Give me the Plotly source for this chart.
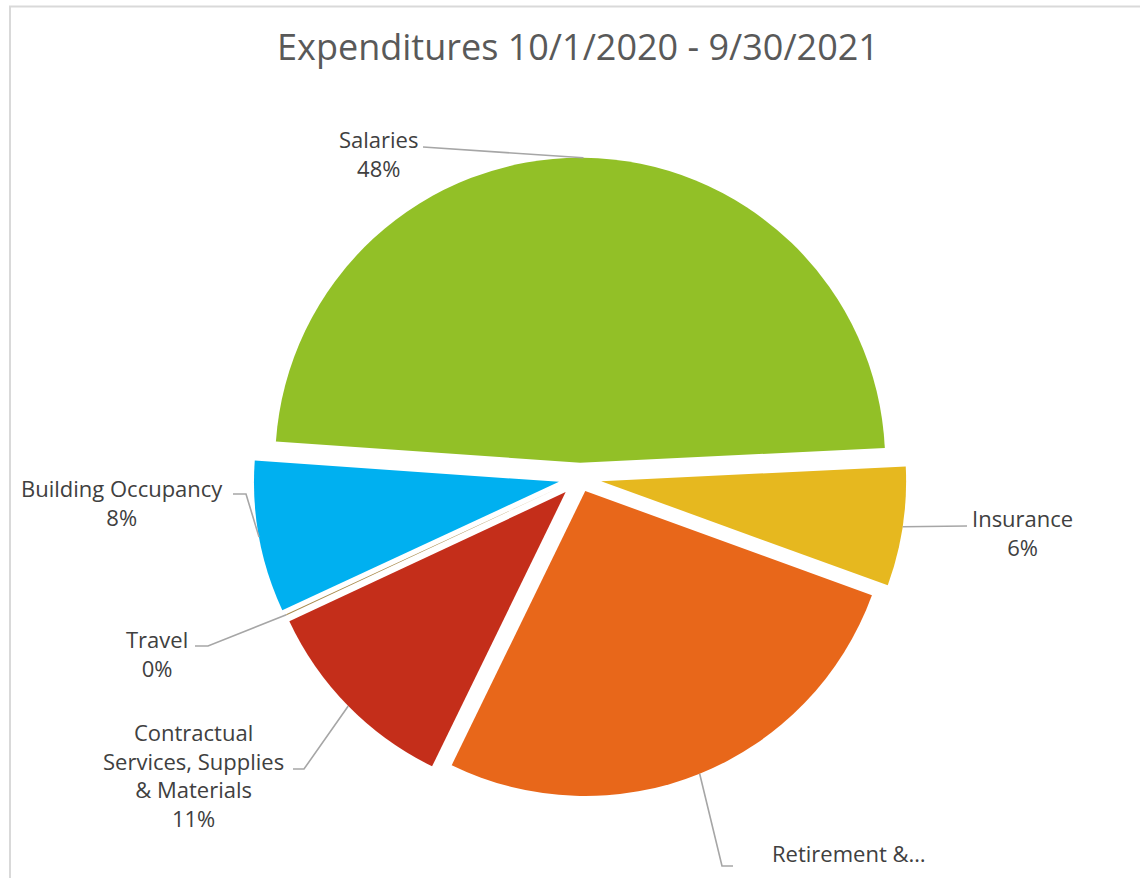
import math
import plotly.graph_objects as go

# ---- data -------------------------------------------------------------
categories = ["Salaries", "Insurance", "Retirement & Benefits",
              "Contractual Services, Supplies & Materials", "Travel",
              "Building Occupancy"]
shares = [48.0, 6.3, 26.6, 10.8, 0.05, 8.0]          # percent of expenditures
label_text = ["Salaries", "Insurance", "Retirement &…",
              "Contractual<br>Services, Supplies<br>& Materials", "Travel",
              "Building Occupancy"]
show_percent = [True, True, False, True, True, True]   # truncated label shows no value

# ---- styling / layout -------------------------------------------------
W, H = 1140, 878
colors = ["#92C027", "#E6B81F", "#E8671A", "#C42E1A", "#A88A4C", "#00B0F0"]
pulls = [0.05, 0.07, 0.046, 0.066, 0.062, 0.07]
rotation = -86
CX, CY, R = 580, 478, 305          # pie centre and radius in pixels

# where each label sits and how its leader line bends (pixels)
label_pos = [(378, 154), (1022, 532), (849, 853), (193, 775), (157, 653), (122, 502)]
leader_pts = [
    [(423, 147)],
    [(967, 526)],
    [(722, 866), (733, 866)],
    [(304, 769), (293, 769)],
    [(208, 646), (195, 646)],
    [(246, 494), (233, 494)],
]

TEXT = "#404040"
LINE = "#A6A6A6"
FONT = "Open Sans"


def px(x):
    return x / W


def py(y):
    return 1 - y / H


max_pull = max(pulls)
half = R * (1 + max_pull)
domain_x = [px(CX - half), px(CX + half)]
domain_y = [py(CY + half), py(CY - half)]

fig = go.Figure(go.Pie(
    labels=categories,
    values=shares,
    sort=False,
    direction="clockwise",
    rotation=rotation,
    pull=pulls,
    marker=dict(colors=colors, line=dict(width=0)),
    textinfo="none",
    hoverinfo="label+percent",
    showlegend=False,
    domain=dict(x=domain_x, y=domain_y),
))

# leader lines and labels, anchored on the middle of each slice's arc
total = sum(shares)
cum = 0.0
shapes = []
annotations = []
for i, v in enumerate(shares):
    mid = math.radians(rotation + 360 * (cum + v / 2) / total)
    cum += v
    ux, uy = math.sin(mid), -math.cos(mid)
    off = pulls[i] * R
    ax = CX + (off + R) * ux
    ay = CY + (off + R) * uy
    pts = [(ax, ay)] + leader_pts[i]
    path = "M " + " L ".join(f"{px(x)},{py(y)}" for x, y in pts)
    shapes.append(dict(type="path", xref="paper", yref="paper", path=path,
                       line=dict(color=LINE, width=1.6)))
    txt = label_text[i]
    if show_percent[i]:
        txt += f"<br>{round(100 * v / total)}%"
    lx, ly = label_pos[i]
    annotations.append(dict(x=px(lx), y=py(ly), xref="paper", yref="paper",
                            text=txt, showarrow=False, xanchor="center",
                            yanchor="middle", align="center",
                            font=dict(family=FONT, size=22, color=TEXT)))

# chart-area border
shapes.append(dict(type="rect", xref="paper", yref="paper",
                   x0=px(10), x1=px(W + 20), y0=py(H + 20), y1=py(6.5),
                   line=dict(color="#D9D9D9", width=2), fillcolor="rgba(0,0,0,0)",
                   layer="below"))

fig.update_layout(
    width=W, height=H,
    margin=dict(l=0, r=0, t=0, b=0),
    paper_bgcolor="white",
    plot_bgcolor="white",
    title=dict(text="Expenditures 10/1/2020 - 9/30/2021", x=px(578), xanchor="center",
               y=py(47), yanchor="middle",
               font=dict(family=FONT, size=36, color="#595959")),
    shapes=shapes,
    annotations=annotations,
)

fig.write_html("out.html")
